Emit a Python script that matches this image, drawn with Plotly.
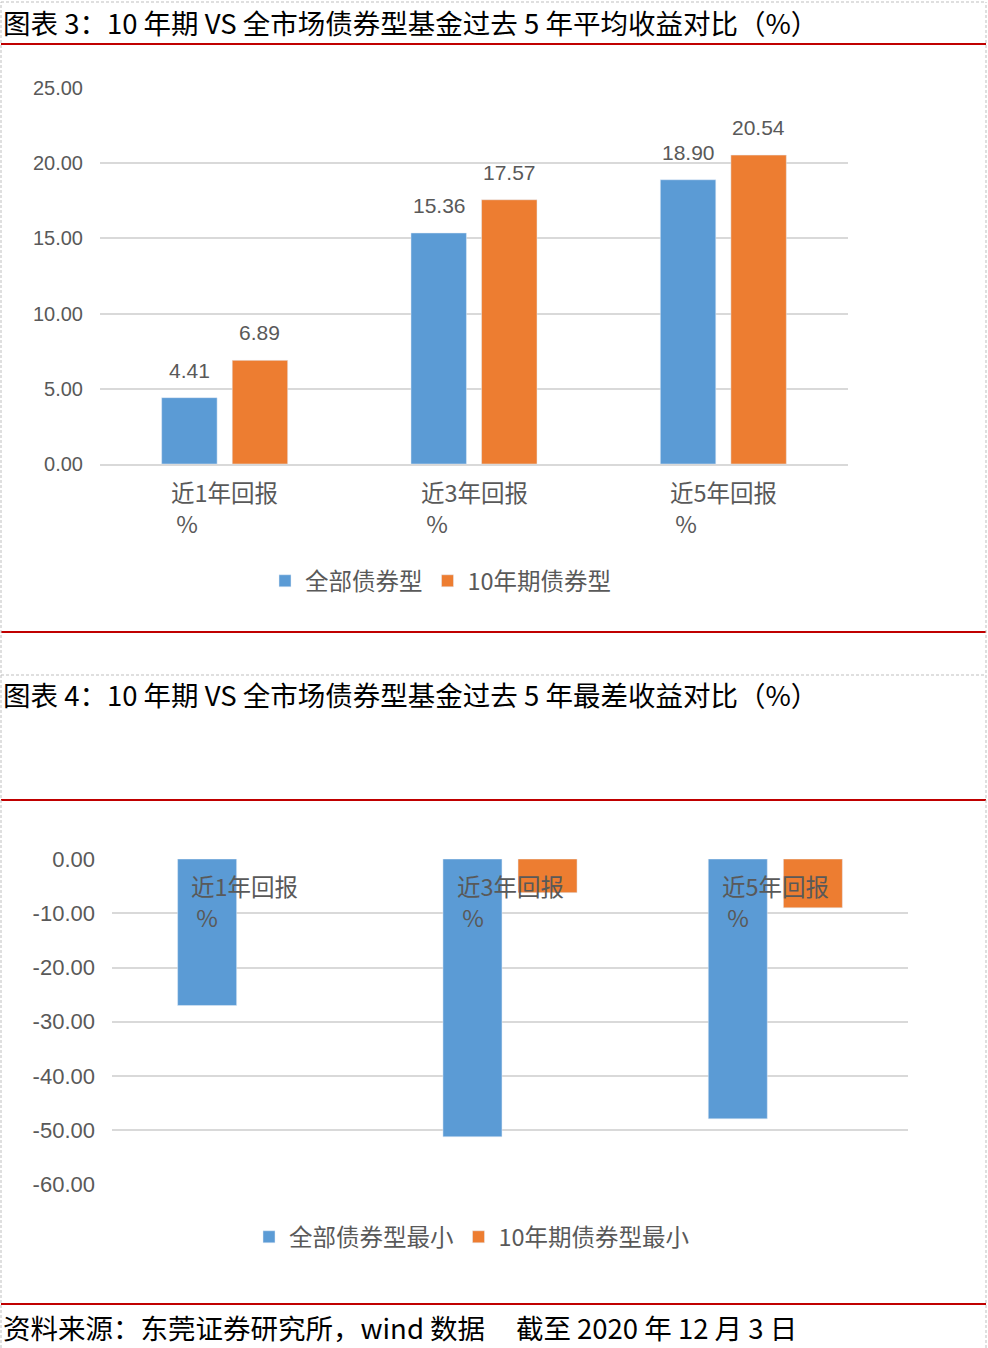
import plotly.graph_objects as go

W, H = 988, 1348

categories = ["近1年回报", "近3年回报", "近5年回报"]
cat_suffix = "%"

avg_all = [4.41, 15.36, 18.90]
avg_10y = [6.89, 17.57, 20.54]
avg_names = ["全部债券型", "10年期债券型"]
y1_ticks = [0, 5, 10, 15, 20, 25]
y1_ticklabels = ["0.00", "5.00", "10.00", "15.00", "20.00", "25.00"]

min_all = [-27.0, -51.2, -47.9]
min_10y = [None, -6.2, -9.0]
min_names = ["全部债券型最小", "10年期债券型最小"]
y2_ticks = [0, -10, -20, -30, -40, -50, -60]
y2_ticklabels = ["0.00", "-10.00", "-20.00", "-30.00", "-40.00", "-50.00", "-60.00"]

title1 = "图表 3：10 年期 VS 全市场债券型基金过去 5 年平均收益对比（%）"
title2 = "图表 4：10 年期 VS 全市场债券型基金过去 5 年最差收益对比（%）"
footer = "资料来源：东莞证券研究所，wind 数据\u00a0\u00a0\u00a0\u00a0\u00a0截至 2020 年 12 月 3 日"

BLUE = "#5B9BD5"
ORANGE = "#ED7D31"
GREY = "#595959"
GRID = "#D9D9D9"
RED = "#C00000"
CJK = "Noto Sans CJK SC, sans-serif"
SANS = "Liberation Sans, Arial, sans-serif"


def fy(px):
    return 1 - px / H


def fx(px):
    return px / W


fig = go.Figure()

# Chart 1
fig.add_trace(go.Bar(x=categories, y=avg_all, name=avg_names[0], marker_color=BLUE,
                     xaxis="x", yaxis="y", legend="legend"))
fig.add_trace(go.Bar(x=categories, y=avg_10y, name=avg_names[1], marker_color=ORANGE,
                     xaxis="x", yaxis="y", legend="legend"))
# Chart 2
fig.add_trace(go.Bar(x=categories, y=min_all, name=min_names[0], marker_color=BLUE,
                     xaxis="x2", yaxis="y2", legend="legend2"))
fig.add_trace(go.Bar(x=categories, y=min_10y, name=min_names[1], marker_color=ORANGE,
                     xaxis="x2", yaxis="y2", legend="legend2"))

annotations = []
# data labels chart 1
for vals, shift in ((avg_all, -35), (avg_10y, 35)):
    for c, v in zip(categories, vals):
        annotations.append(dict(x=c, y=v, xref="x", yref="y", xshift=shift, yshift=14,
                                text=f"{v:.2f}", showarrow=False, yanchor="bottom",
                                font=dict(family=SANS, size=21, color=GREY)))
# category labels
lab = [f"{c}<br>\u00a0{cat_suffix}" for c in categories]
for c, t in zip(categories, lab):
    annotations.append(dict(x=c, y=0, xref="x", yref="y", yanchor="top", yshift=-9,
                            text=t, align="left", showarrow=False,
                            font=dict(family=CJK, size=23.5, color=GREY)))
    annotations.append(dict(x=c, y=0, xref="x2", yref="y2", yanchor="top", yshift=-8,
                            text=t, align="left", showarrow=False,
                            font=dict(family=CJK, size=23.5, color=GREY)))
# titles / footer
for t, ypx in ((title1, 22), (title2, 694), (footer, 1327)):
    annotations.append(dict(x=fx(1), y=fy(ypx), xref="paper", yref="paper", xanchor="left",
                            yanchor="middle", text=t, showarrow=False,
                            font=dict(family=CJK, size=27.5, color="#000000")))

shapes = []
for ypx in (44, 632, 800, 1304):
    shapes.append(dict(type="line", xref="paper", yref="paper", x0=fx(1), x1=fx(986),
                       y0=fy(ypx), y1=fy(ypx), line=dict(color=RED, width=2)))
dash = dict(color="#BFBFBF", width=1, dash="3px,2px")
shapes.append(dict(type="line", xref="paper", yref="paper", x0=fx(1), x1=fx(1), y0=0, y1=fy(2), line=dash))
shapes.append(dict(type="line", xref="paper", yref="paper", x0=fx(986), x1=fx(986), y0=0, y1=fy(2), line=dash))
for ypx in (2, 675):
    shapes.append(dict(type="line", xref="paper", yref="paper", x0=fx(1), x1=fx(986),
                       y0=fy(ypx), y1=fy(ypx), line=dash))

fig.update_layout(
    width=W, height=H, margin=dict(l=0, r=0, t=0, b=0, autoexpand=False),
    paper_bgcolor="white", plot_bgcolor="white",
    barmode="group", bargap=0.434, bargroupgap=0.214,
    showlegend=True,
    xaxis=dict(domain=[fx(100), fx(848)], anchor="y", showticklabels=False, showgrid=False,
               showline=True, linecolor=GRID, linewidth=2, ticks="", automargin=False),
    yaxis=dict(domain=[fy(464), fy(88)], anchor="x", range=[0, 25],
               tickvals=y1_ticks, ticktext=y1_ticklabels,
               showgrid=True, gridcolor=GRID, gridwidth=1.5, zeroline=False, showline=False,
               ticklabelstandoff=16, automargin=False,
               tickfont=dict(family=SANS, size=20, color=GREY)),
    xaxis2=dict(domain=[fx(112), fx(908)], anchor="y2", showticklabels=False, showgrid=False,
                showline=False, ticks="", automargin=False),
    yaxis2=dict(domain=[fy(1184.5), fy(859)], anchor="x2", range=[-60, 0],
                tickvals=y2_ticks, ticktext=y2_ticklabels,
                showgrid=True, gridcolor=GRID, gridwidth=1.5,
                zeroline=False, showline=False, ticklabelstandoff=16, automargin=False,
                tickfont=dict(family=SANS, size=22, color=GREY)),
    legend=dict(orientation="h", x=fx(265), xanchor="left", y=fy(581), yanchor="middle",
                font=dict(family=CJK, size=23.5, color=GREY), bgcolor="rgba(0,0,0,0)"),
    legend2=dict(orientation="h", x=fx(249), xanchor="left", y=fy(1237), yanchor="middle",
                 font=dict(family=CJK, size=23.5, color=GREY), bgcolor="rgba(0,0,0,0)"),
    annotations=annotations, shapes=shapes,
)

fig.write_html("out.html")
